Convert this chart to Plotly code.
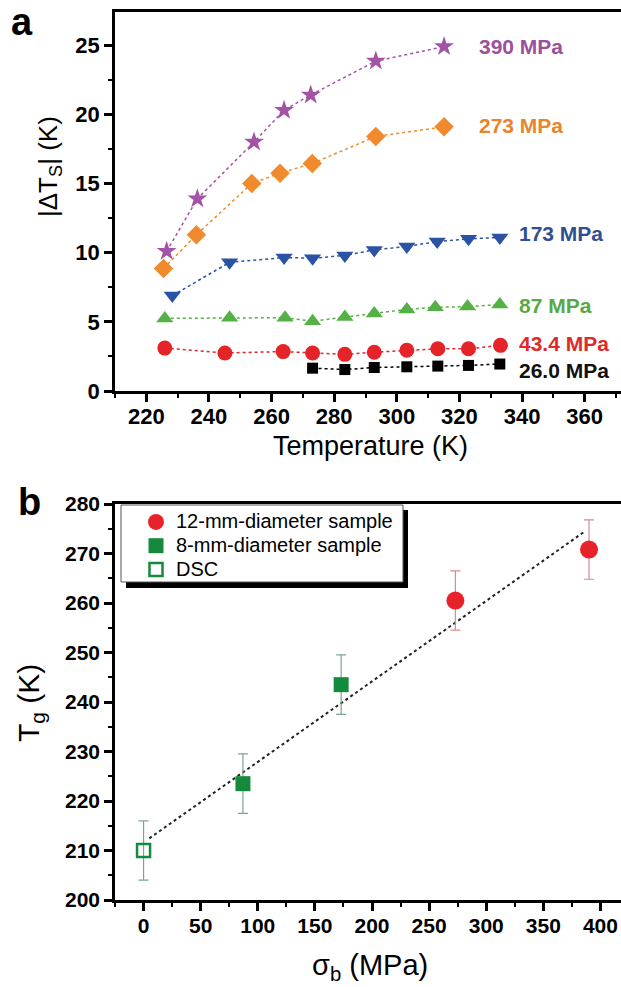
import numpy as np
import plotly.graph_objects as go

# ---------------- Panel a data ----------------
T390 = [226.5, 236.3, 254.4, 264.0, 272.5, 293.3, 315.1]
dT390 = [10.1, 13.9, 18.0, 20.3, 21.4, 23.85, 24.9]
T273 = [225.5, 236.0, 253.7, 262.7, 273.0, 293.3, 315.1]
dT273 = [8.85, 11.3, 15.0, 15.75, 16.45, 18.4, 19.1]
T173 = [228.3, 246.6, 264.0, 273.1, 283.4, 292.8, 303.2, 312.9, 322.9, 332.9]
dT173 = [6.9, 9.3, 9.65, 9.6, 9.8, 10.2, 10.45, 10.8, 11.0, 11.1]
T87 = [225.9, 246.6, 264.3, 273.1, 283.4, 292.8, 303.2, 312.3, 322.6, 332.9]
dT87 = [5.25, 5.3, 5.3, 5.05, 5.35, 5.6, 5.9, 6.05, 6.1, 6.25]
T43 = [225.9, 245.1, 263.7, 273.1, 283.4, 292.8, 303.2, 313.1, 322.9, 333.1]
dT43 = [3.1, 2.75, 2.85, 2.75, 2.65, 2.8, 2.95, 3.05, 3.05, 3.3]
T26 = [273.1, 283.4, 292.8, 303.2, 313.1, 322.9, 332.9]
dT26 = [1.65, 1.55, 1.7, 1.75, 1.8, 1.85, 1.95]
series_labels = ["390 MPa", "273 MPa", "173 MPa", "87 MPa", "43.4 MPa", "26.0 MPa"]

# ---------------- Panel b data ----------------
sigma_12 = [273, 390]
Tg_12 = [260.5, 270.8]
err_12 = [6, 6]
sigma_8 = [87, 173]
Tg_8 = [223.5, 243.5]
err_8 = [6, 6]
sigma_dsc = [0]
Tg_dsc = [210.0]
err_dsc = [6]
fit_span = [5, 386]
legend_names = ["12-mm-diameter sample", "8-mm-diameter sample", "DSC"]

FONT = "Liberation Sans, Arial, sans-serif"
W, H = 621, 987

fig = go.Figure()

series = [
    (T390, dT390, "star", "#a352a5", 15),
    (T273, dT273, "diamond", "#f08a2c", 15),
    (T173, dT173, "triangle-down", "#2b53a3", 15),
    (T87, dT87, "triangle-up", "#55b046", 15),
    (T43, dT43, "circle", "#e42429", 15),
    (T26, dT26, "square", "#000000", 11),
]
label_colors = ["#9b4f9c", "#e8842c", "#2f4f95", "#5aa845", "#e02a2a", "#111111"]
label_pos = [(325.5, 24.9), (325.5, 19.2), (338.5, 11.4), (338.5, 6.15), (338.5, 3.45), (338.5, 1.5)]

for (x, y, sym, col, sz) in series:
    fig.add_trace(go.Scatter(
        x=x, y=y, mode="lines+markers", xaxis="x", yaxis="y",
        line=dict(color=col, width=1.5, dash="dot"),
        marker=dict(symbol=sym, color=col, size=sz, line=dict(width=0)),
        showlegend=False, hoverinfo="skip"))

# Panel b traces
fit = np.polyfit(sigma_dsc + sigma_8 + sigma_12, Tg_dsc + Tg_8 + Tg_12, 1)
fx = np.array(fit_span, dtype=float)
fig.add_trace(go.Scatter(
    x=fx, y=np.polyval(fit, fx), mode="lines", xaxis="x2", yaxis="y2",
    line=dict(color="#222222", width=2, dash="dot"), showlegend=False, hoverinfo="skip"))

def leg(name):
    return '<span style="font-size:20px">' + name + '</span>'

fig.add_trace(go.Scatter(
    x=sigma_12, y=Tg_12, mode="markers", xaxis="x2", yaxis="y2", name=leg(legend_names[0]),
    marker=dict(symbol="circle", color="#e8222a", size=18),
    error_y=dict(type="data", array=err_12, color="#d98a8c", thickness=1.2, width=5)))
fig.add_trace(go.Scatter(
    x=sigma_8, y=Tg_8, mode="markers", xaxis="x2", yaxis="y2", name=leg(legend_names[1]),
    marker=dict(symbol="square", color="#158a3c", size=15),
    error_y=dict(type="data", array=err_8, color="#7aa68e", thickness=1.2, width=5)))
fig.add_trace(go.Scatter(
    x=sigma_dsc, y=Tg_dsc, mode="markers", xaxis="x2", yaxis="y2", name=leg(legend_names[2]),
    marker=dict(symbol="square-open", color="#158a3c", size=13, line=dict(width=2.5)),
    error_y=dict(type="data", array=err_dsc, color="#7aa68e", thickness=1.2, width=5)))

axis_common = dict(
    showline=True, linecolor="black", linewidth=2.5, ticks="outside", ticklen=8,
    tickwidth=2.5, tickcolor="black", showgrid=False, zeroline=False, automargin=False,
    tickfont=dict(family=FONT, size=22, color="black", weight="bold"),
)

xa_left = 115 / W
fig.update_layout(
    width=W, height=H, margin=dict(l=0, r=0, t=0, b=0, autoexpand=False),
    plot_bgcolor="white", paper_bgcolor="white",
    xaxis=dict(axis_common, domain=[xa_left, 1.0], range=[210, 371.6], anchor="y",
               tick0=0, dtick=20, mirror=True, ticklabelstandoff=-4,
               minor=dict(dtick=10, ticklen=4, tickwidth=2, ticks="outside", tickcolor="black")),
    yaxis=dict(axis_common, domain=[1 - 391 / H, 1 - 12 / H], range=[0, 27.4], anchor="x",
               tick0=0, dtick=5,
               minor=dict(dtick=2.5, ticklen=4, tickwidth=2, ticks="outside", tickcolor="black")),
    xaxis2=dict(axis_common, domain=[xa_left, 1.0], range=[-25, 418], anchor="y2",
                tick0=0, dtick=50, mirror=True, ticklabelstandoff=-3,
                tickfont=dict(family=FONT, size=21, color="black", weight="bold"),
                minor=dict(dtick=25, ticklen=4, tickwidth=2, ticks="outside", tickcolor="black")),
    yaxis2=dict(axis_common, domain=[1 - 900 / H, 1 - 504 / H], range=[200, 280], anchor="x2",
                tick0=0, dtick=10,
                tickfont=dict(family=FONT, size=21, color="black", weight="bold"),
                minor=dict(dtick=5, ticklen=4, tickwidth=2, ticks="outside", tickcolor="black")),
    legend=dict(x=121 / W, y=1 - 505 / H, xanchor="left", yanchor="top",
                bgcolor="rgba(0,0,0,0)", borderwidth=0,
                font=dict(family=FONT, size=16, color="black"),
                indentation=15, tracegroupgap=0),
    showlegend=True,
)

# legend frame with drop shadow
fig.add_shape(type="rect", xref="paper", yref="paper",
              x0=126 / W, x1=408 / W, y0=1 - 588 / H, y1=1 - 510 / H,
              fillcolor="black", line=dict(width=0), layer="above")
fig.add_shape(type="rect", xref="paper", yref="paper",
              x0=121 / W, x1=403 / W, y0=1 - 582 / H, y1=1 - 505 / H,
              fillcolor="white", line=dict(color="#555555", width=1), layer="above")

ann = []
for lab, col, (lx, ly) in zip(series_labels, label_colors, label_pos):
    ann.append(dict(x=lx, y=ly, xref="x", yref="y", text=lab, showarrow=False,
                    xanchor="left", yanchor="middle",
                    font=dict(family=FONT, size=21, color=col, weight="bold")))

ann += [
    dict(x=22 / W, y=1 - 22 / H, xref="paper", yref="paper", text="a", showarrow=False,
         xanchor="center", yanchor="middle", font=dict(family=FONT, size=38, color="black", weight="bold")),
    dict(x=29 / W, y=1 - 502 / H, xref="paper", yref="paper", text="b", showarrow=False,
         xanchor="center", yanchor="middle", font=dict(family=FONT, size=38, color="black", weight="bold")),
    dict(x=370 / W, y=1 - 446 / H, xref="paper", yref="paper", text="Temperature (K)", showarrow=False,
         xanchor="center", yanchor="middle", font=dict(family=FONT, size=27, color="black")),
    dict(x=50 / W, y=1 - 167 / H, xref="paper", yref="paper", text="|ΔT<sub>S</sub>| (K)", showarrow=False,
         textangle=-90, xanchor="center", yanchor="middle", font=dict(family=FONT, size=26, color="black")),
    dict(x=370 / W, y=1 - 967 / H, xref="paper", yref="paper", text="σ<sub>b</sub> (MPa)", showarrow=False,
         xanchor="center", yanchor="middle", font=dict(family=FONT, size=29, color="black")),
    dict(x=30 / W, y=1 - 703 / H, xref="paper", yref="paper", text="T<sub>g</sub> (K)", showarrow=False,
         textangle=-90, xanchor="center", yanchor="middle", font=dict(family=FONT, size=30, color="black")),
]
fig.update_layout(annotations=ann)

fig.write_html("out.html")
